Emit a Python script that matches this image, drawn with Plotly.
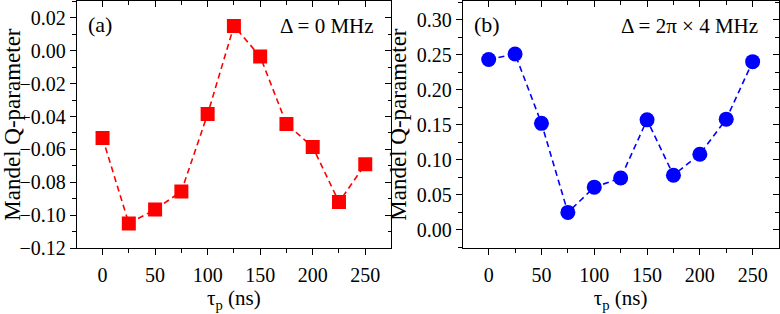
import plotly.graph_objects as go

tau = [0, 25, 50, 75, 100, 125, 150, 175, 200, 225, 250]
q_a = [-0.053, -0.105, -0.0965, -0.0855, -0.0385, 0.015, -0.0035, -0.0445, -0.0585, -0.092, -0.069]
q_b = [0.243, 0.251, 0.152, 0.025, 0.061, 0.074, 0.157, 0.078, 0.108, 0.158, 0.240]

x_range = [-24.5, 274.5]
ya_range = [-0.12, 0.0302]
yb_range = [-0.026, 0.3265]

FONT = "Times New Roman, Liberation Serif, Times, serif"
TICKF = dict(family=FONT, size=20, color="black")

fig = go.Figure()
fig.add_trace(go.Scatter(x=tau, y=q_a, mode="lines+markers", xaxis="x", yaxis="y",
                         line=dict(color="#ff0000", width=1.6, dash="6px,4px"),
                         marker=dict(symbol="square", size=14, color="#ff0000"),
                         showlegend=False))
fig.add_trace(go.Scatter(x=tau, y=q_b, mode="lines+markers", xaxis="x2", yaxis="y2",
                         line=dict(color="#0000ff", width=1.6, dash="6px,4px"),
                         marker=dict(symbol="circle", size=15, color="#0000ff"),
                         showlegend=False))
# empty traces so the mirrored (inside-tick) axes are drawn
for xa, ya in [("x3", "y3"), ("x4", "y4")]:
    fig.add_trace(go.Scatter(x=[None], y=[None], xaxis=xa, yaxis=ya, showlegend=False, hoverinfo="skip"))

dom_a = [75 / 780, 390 / 780]
dom_b = [462 / 780, 778.5 / 780]
dom_y = [57 / 314, 1.0]

def xax(dom, anchor):
    return dict(domain=dom, anchor=anchor, range=x_range, dtick=50, tick0=0,
                ticks="outside", ticklen=6, tickwidth=1.2, tickcolor="black",
                showline=True, linecolor="black", linewidth=1.3, mirror=True,
                showgrid=False, zeroline=False, tickfont=TICKF, ticklabelstandoff=3,
                minor=dict(dtick=25, tick0=0, ticks="outside", ticklen=3.5, tickcolor="black", tickwidth=1.2),
                title=dict(text="τ<sub>p</sub> (ns)", font=dict(family=FONT, size=21, color="black"), standoff=3))

def yax(dom, anchor, rng, dt, fmt):
    return dict(domain=dom, anchor=anchor, range=rng, dtick=dt, tick0=0, tickformat=fmt,
                ticks="outside", ticklen=6, tickwidth=1.2, tickcolor="black",
                showline=True, linecolor="black", linewidth=1.3, mirror=True,
                showgrid=False, zeroline=False, tickfont=TICKF,
                minor=dict(dtick=dt / 2, tick0=0, ticks="outside", ticklen=3.5, tickcolor="black", tickwidth=1.2),
                title=dict(text="Mandel Q-parameter", font=dict(family=FONT, size=23, color="black"), standoff=3))

def mirror_x(over, anchor):
    return dict(overlaying=over, anchor=anchor, side="top", range=x_range, dtick=50, tick0=0,
                ticks="inside", ticklen=6, tickwidth=1.2, tickcolor="black", showticklabels=False,
                showgrid=False, zeroline=False, showline=False,
                minor=dict(dtick=25, tick0=0, ticks="inside", ticklen=3.5, tickcolor="black", tickwidth=1.2))

def mirror_y(over, anchor, rng, dt):
    return dict(overlaying=over, anchor=anchor, side="right", range=rng, dtick=dt, tick0=0,
                ticks="inside", ticklen=6, tickwidth=1.2, tickcolor="black", showticklabels=False,
                showgrid=False, zeroline=False, showline=False,
                minor=dict(dtick=dt / 2, tick0=0, ticks="inside", ticklen=3.5, tickcolor="black", tickwidth=1.2))

fig.update_layout(
    width=780, height=314, margin=dict(l=0, r=0, t=0, b=0),
    paper_bgcolor="white", plot_bgcolor="white",
    font=dict(family=FONT, color="black"),
    xaxis=xax(dom_a, "y"),
    yaxis=yax(dom_y, "x", ya_range, 0.02, ".2f"),
    xaxis2=xax(dom_b, "y2"),
    yaxis2=yax(dom_y, "x2", yb_range, 0.05, ".2f"),
    xaxis3=mirror_x("x", "y"),
    yaxis3=mirror_y("y", "x", ya_range, 0.02),
    xaxis4=mirror_x("x2", "y2"),
    yaxis4=mirror_y("y2", "x2", yb_range, 0.05),
    annotations=[
        dict(text="(a)", xref="x domain", yref="y domain", x=0.03, y=0.965, xanchor="left", yanchor="top",
             showarrow=False, font=dict(family=FONT, size=22, color="black")),
        dict(text="Δ = 0 MHz", xref="x domain", yref="y domain", x=0.952, y=0.955, xanchor="right", yanchor="top",
             showarrow=False, font=dict(family=FONT, size=21, color="black")),
        dict(text="(b)", xref="x2 domain", yref="y2 domain", x=0.03, y=0.965, xanchor="left", yanchor="top",
             showarrow=False, font=dict(family=FONT, size=22, color="black")),
        dict(text="Δ = 2π × 4 MHz", xref="x2 domain", yref="y2 domain", x=0.941, y=0.955, xanchor="right", yanchor="top",
             showarrow=False, font=dict(family=FONT, size=21, color="black")),
    ],
)

fig.write_html("out.html", config={"displayModeBar": False},
               post_script="document.body.style.margin='0';document.body.style.overflow='hidden';")
